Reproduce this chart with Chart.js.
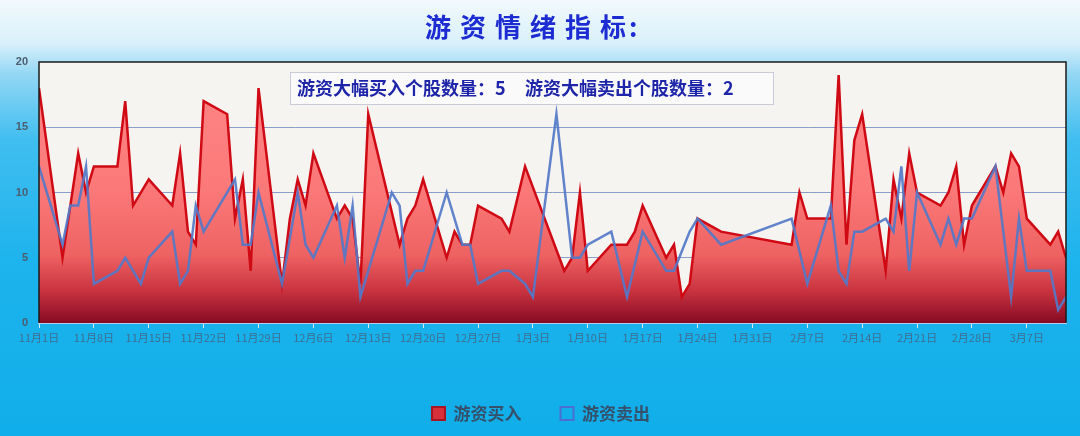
<!DOCTYPE html>
<html>
<head>
<meta charset="utf-8">
<script src="https://cdn.jsdelivr.net/npm/chart.js@4.4.1/dist/chart.umd.min.js"></script>
<style>
  html, body { margin: 0; padding: 0; }
  #wrap { width: 1080px; height: 436px; }
</style>
</head>
<body>
<div id="wrap"><canvas id="chart"></canvas></div>
<script>
// values (vertices of each line)
const startDate = '2021-11-01';
const endDate = '2022-03-12';

const buyDates = [
  '2021-11-01','2021-11-04','2021-11-06','2021-11-07','2021-11-08','2021-11-11','2021-11-12','2021-11-13','2021-11-15','2021-11-18',
  '2021-11-19','2021-11-20','2021-11-21','2021-11-22','2021-11-25','2021-11-26','2021-11-27','2021-11-28','2021-11-29','2021-12-02',
  '2021-12-03','2021-12-04','2021-12-05','2021-12-06','2021-12-09','2021-12-10','2021-12-11','2021-12-12','2021-12-13','2021-12-17',
  '2021-12-18','2021-12-19','2021-12-20','2021-12-23','2021-12-24','2021-12-25','2021-12-26','2021-12-27','2021-12-30','2021-12-31',
  '2022-01-02','2022-01-07','2022-01-08','2022-01-09','2022-01-10','2022-01-13','2022-01-15','2022-01-16','2022-01-17','2022-01-20',
  '2022-01-21','2022-01-22','2022-01-23','2022-01-24','2022-01-27','2022-02-05','2022-02-06','2022-02-07','2022-02-10','2022-02-11',
  '2022-02-12','2022-02-13','2022-02-14','2022-02-17','2022-02-18','2022-02-19','2022-02-20','2022-02-21','2022-02-24','2022-02-25',
  '2022-02-26','2022-02-27','2022-02-28','2022-03-03','2022-03-04','2022-03-05','2022-03-06','2022-03-07','2022-03-10','2022-03-11',
  '2022-03-12'
];
const buyValues = [
  18, 5, 13, 10, 12, 12, 17, 9, 11, 9,
  13, 7, 6, 17, 16, 8, 11, 4, 18, 3,
  8, 11, 9, 13, 8, 9, 8, 3, 16, 6,
  8, 9, 11, 5, 7, 6, 6, 9, 8, 7,
  12, 4, 5, 10, 4, 6, 6, 7, 9, 5,
  6, 2, 3, 8, 7, 6, 10, 8, 8, 19,
  6, 14, 16, 4, 11, 8, 13, 10, 9, 10,
  12, 6, 9, 12, 10, 13, 12, 8, 6, 7,
  5
];

const sellDates = [
  '2021-11-01','2021-11-04','2021-11-05','2021-11-06','2021-11-07','2021-11-08','2021-11-11','2021-11-12','2021-11-14','2021-11-15',
  '2021-11-18','2021-11-19','2021-11-20','2021-11-21','2021-11-22','2021-11-26','2021-11-27','2021-11-28','2021-11-29','2021-12-02',
  '2021-12-04','2021-12-05','2021-12-06','2021-12-09','2021-12-10','2021-12-11','2021-12-12','2021-12-16','2021-12-17','2021-12-18',
  '2021-12-19','2021-12-20','2021-12-23','2021-12-25','2021-12-26','2021-12-27','2021-12-30','2021-12-31','2022-01-02','2022-01-03',
  '2022-01-06','2022-01-08','2022-01-09','2022-01-10','2022-01-13','2022-01-15','2022-01-17','2022-01-20','2022-01-21','2022-01-23',
  '2022-01-24','2022-01-27','2022-02-05','2022-02-07','2022-02-10','2022-02-11','2022-02-12','2022-02-13','2022-02-14','2022-02-17',
  '2022-02-18','2022-02-19','2022-02-20','2022-02-21','2022-02-24','2022-02-25','2022-02-26','2022-02-27','2022-02-28','2022-03-03',
  '2022-03-05','2022-03-06','2022-03-07','2022-03-10','2022-03-11','2022-03-12'
];
const sellValues = [
  12, 6, 9, 9, 12, 3, 4, 5, 3, 5,
  7, 3, 4, 9, 7, 11, 6, 6, 10, 3,
  10, 6, 5, 9, 5, 9, 2, 10, 9, 3,
  4, 4, 10, 6, 6, 3, 4, 4, 3, 2,
  16, 5, 5, 6, 7, 2, 7, 4, 4, 7,
  8, 6, 8, 3, 9, 4, 3, 7, 7, 8,
  7, 12, 4, 10, 6, 8, 6, 8, 8, 12,
  2, 8, 4, 4, 1, 2
];

const seriesNames = ['游资买入', '游资卖出'];
const titleText = '游资情绪指标';
const titleColon = ':';
const noteBuy = '游资大幅买入个股数量：5';
const noteSell = '游资大幅卖出个股数量：2';

const DAY = 864e5;
const dayOf = s => (Date.parse(s) - Date.parse(startDate)) / DAY;
const toPoints = (dates, values) => dates.map((d, i) => ({ x: dayOf(d), y: values[i] }));
const dateLabel = v => {
    const d = new Date(Date.parse(startDate) + v * DAY);
    return (d.getUTCMonth() + 1) + '月' + d.getUTCDate() + '日';
};

const CJK = '"Noto Sans CJK SC", sans-serif';
const PAD_BOTTOM = 4;

function redFill(c) {
    const a = c.chart.chartArea;
    if (!a) return '#f07070';
    const g = c.chart.ctx.createLinearGradient(0, a.top, 0, a.bottom);
    g.addColorStop(0, '#ff8888');
    g.addColorStop(0.5, '#fb7878');
    g.addColorStop(0.74, '#ee6262');
    g.addColorStop(0.88, '#c8323f');
    g.addColorStop(1, '#860a22');
    return g;
}

const panel = {
    id: 'panel',
    beforeDraw(chart) {
        const { ctx, width, height, chartArea: a } = chart;
        ctx.save();
        const g = ctx.createLinearGradient(0, 0, 0, height);
        g.addColorStop(0, '#f2f9fd');
        g.addColorStop(0.1, '#d9f0fa');
        g.addColorStop(0.17, '#93d7f4');
        g.addColorStop(0.32, '#40bef0');
        g.addColorStop(0.6, '#1db3ec');
        g.addColorStop(1, '#10aeea');
        ctx.fillStyle = g;
        ctx.fillRect(0, 0, width, height);
        ctx.fillStyle = '#f6f4f1';
        ctx.fillRect(a.left, a.top, a.right - a.left, a.bottom - a.top);

        // title: spaced characters, colon set tight against the last one
        ctx.font = 'bold 26px ' + CJK;
        ctx.letterSpacing = '9px';
        ctx.fillStyle = '#1c2bd2';
        ctx.textBaseline = 'middle';
        ctx.fillText(titleText, 425, 27);
        const w = ctx.measureText(titleText).width;
        ctx.letterSpacing = '0px';
        ctx.fillText(titleColon, 425 + w - 6, 27);
        ctx.restore();
    },
    afterDatasetsDraw(chart) {
        const { ctx, chartArea: a } = chart;
        ctx.save();
        ctx.strokeStyle = '#1a1a1a';
        ctx.lineWidth = 1.5;
        ctx.beginPath();
        ctx.moveTo(a.left, a.bottom);
        ctx.lineTo(a.left, a.top);
        ctx.lineTo(a.right, a.top);
        ctx.lineTo(a.right, a.bottom);
        ctx.stroke();

        ctx.fillStyle = 'rgba(250,250,252,0.93)';
        ctx.fillRect(290, 72, 483, 32);
        ctx.strokeStyle = '#c9ccd6';
        ctx.lineWidth = 1;
        ctx.strokeRect(290.5, 72.5, 483, 32);
        ctx.font = 'bold 18px ' + CJK;
        ctx.fillStyle = '#1e25a8';
        ctx.textBaseline = 'middle';
        ctx.fillText(noteBuy, 297, 88);
        ctx.fillText(noteSell, 525, 88);
        ctx.restore();
    }
};

new Chart(document.getElementById('chart'), {
    type: 'line',
    data: {
        datasets: [
            {
                label: seriesNames[0],
                data: toPoints(buyDates, buyValues),
                borderColor: '#cf0a14',
                backgroundColor: redFill,
                borderWidth: 2.5,
                fill: 'origin',
                pointRadius: 0,
                order: 1,
            },
            {
                label: seriesNames[1],
                data: toPoints(sellDates, sellValues),
                borderColor: 'rgba(84, 120, 200, 0.92)',
                backgroundColor: 'rgba(0,0,0,0)',
                borderWidth: 2.5,
                fill: false,
                pointRadius: 0,
                order: 0,
            }
        ]
    },
    options: {
        responsive: true,
        maintainAspectRatio: false,
        animation: false,
        layout: { padding: { top: 62, right: 14, bottom: PAD_BOTTOM, left: 16 } },
        scales: {
            x: {
                type: 'linear',
                min: 0,
                max: dayOf(endDate),
                afterFit: s => { s.height = 436 - PAD_BOTTOM - s.chart.legend.height - 323; },
                border: { color: '#b4d0ea', width: 2 },
                grid: { drawOnChartArea: false, tickLength: 5, color: '#d6e8f4' },
                ticks: {
                    stepSize: 7,
                    includeBounds: false,
                    autoSkip: false,
                    maxRotation: 0,
                    padding: 3,
                    color: '#3f6e91',
                    font: { size: 11, family: CJK },
                    callback: v => dateLabel(v),
                }
            },
            y: {
                min: 0,
                max: 20,
                afterFit: s => { s.width = 23; },
                border: { display: false },
                grid: {
                    drawTicks: false,
                    color: c => (c.tick.value === 0 || c.tick.value === 20) ? 'rgba(0,0,0,0)' : '#8b9dc9',
                },
                ticks: {
                    stepSize: 5,
                    padding: 11,
                    color: '#4b5d6e',
                    font: { size: 11, weight: 'bold', family: '"Liberation Sans", sans-serif' },
                }
            }
        },
        plugins: {
            tooltip: { enabled: false },
            legend: {
                position: 'bottom',
                labels: {
                    boxWidth: 13,
                    boxHeight: 13,
                    padding: 39,
                    color: '#35506b',
                    font: { size: 17, weight: 'bold', family: CJK },
                    generateLabels(chart) {
                        const items = Chart.defaults.plugins.legend.labels.generateLabels(chart);
                        items.forEach(it => {
                            if (it.datasetIndex === 0) {
                                it.fillStyle = '#d8303a';
                                it.strokeStyle = '#a81422';
                            } else {
                                it.fillStyle = 'rgba(0,0,0,0)';
                                it.strokeStyle = '#4a6fd0';
                            }
                            it.lineWidth = 2;
                        });
                        return items.sort((p, q) => p.datasetIndex - q.datasetIndex);
                    }
                }
            }
        }
    },
    plugins: [panel]
});
</script>
</body>
</html>
